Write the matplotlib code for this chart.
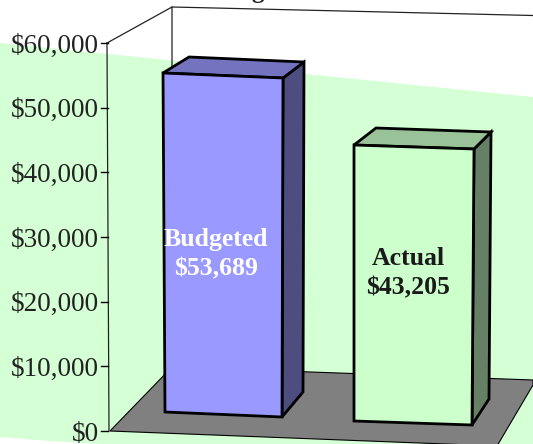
import matplotlib
matplotlib.use("Agg")
import matplotlib.pyplot as plt
from matplotlib.patches import Polygon

categories = ["Budgeted", "Actual"]
values = [53689, 43205]
bar_labels = ["$53,689", "$43,205"]
tick_values = [0, 10000, 20000, 30000, 40000, 50000, 60000]
tick_labels = ["$0", "$10,000", "$20,000", "$30,000", "$40,000", "$50,000", "$60,000"]

front_colors = ["#9999ff", "#ccffcc"]
top_colors = ["#7373bf", "#99c299"]
side_colors = ["#4d4d80", "#668066"]
text_colors = ["white", "#1a1a1a"]

# pixel layout of each bar
bar_x = [(165, 282), (354, 472)]
bar_top_x = [(163, 283), (354, 474)]
bar_base_y = [(412, 417), (421, 425)]
px_per_dollar = [339 / 53689, 276 / 43205]
depth = [(21, -16), (17, -17)]
label_x = [216, 408]
label_y = [238, 257]

axis_y0 = 431
axis_scale = 388 / 60000

plt.rcParams["font.family"] = ["Liberation Serif", "DejaVu Serif"]

fig = plt.figure(figsize=(5.33, 4.44), dpi=100)
ax = fig.add_axes([0, 0, 1, 1])
ax.set_xlim(0, 533)
ax.set_ylim(444, 0)
ax.axis("off")

# green wall and floor
ax.add_patch(Polygon([(0, 43), (533, 97), (533, 444), (100, 444), (50, 441), (0, 437)],
                     fc="#d5ffd5", ec="none", zorder=1))
ax.add_patch(Polygon([(110, 431), (172, 367), (533, 380), (533, 385), (497, 446)],
                     fc="#808080", ec="black", lw=0.8, zorder=2))

# frame lines
ax.plot([107, 109], [axis_y0 - 60000 * axis_scale, axis_y0], color="#222222", lw=0.9, zorder=3)
ax.plot([107, 172, 172], [43, 7, 367], color="#222222", lw=0.9, zorder=1.5)
ax.plot([172, 533], [7, 15.5], color="#222222", lw=0.9, zorder=1.5)

for v, lab in zip(tick_values, tick_labels):
    y = axis_y0 - v * axis_scale
    ax.plot([101, 108], [y, y], color="black", lw=1, zorder=3)
    ax.text(99, y + 3, lab, ha="right", va="center", fontsize=19.5, color="#222222", zorder=5)

for i, cat in enumerate(categories):
    xl, xr = bar_x[i]
    txl, txr = bar_top_x[i]
    byl, byr = bar_base_y[i]
    h = values[i] * px_per_dollar[i]
    dx, dy = depth[i]
    tl = (txl, byl - h)
    tr = (txr, byr - h)
    style = dict(ec="black", lw=2.0, joinstyle="miter", zorder=4)
    ax.add_patch(Polygon([tr, (tr[0] + dx, tr[1] + dy), (xr + dx, byr + dy - 9), (xr, byr)],
                         fc=side_colors[i], **style))
    ax.add_patch(Polygon([tl, (tl[0] + dx + 5, tl[1] + dy), (tr[0] + dx, tr[1] + dy), tr],
                         fc=top_colors[i], **style))
    ax.add_patch(Polygon([tl, tr, (xr, byr), (xl, byl)], fc=front_colors[i], **style))
    ax.text(label_x[i], label_y[i] + 1, cat, ha="center", va="center", fontsize=18.5,
            fontweight="bold", color=text_colors[i], zorder=6)
    ax.text(label_x[i], label_y[i] + 31, bar_labels[i], ha="center", va="center", fontsize=18.5,
            fontweight="bold", color=text_colors[i], zorder=6)

# only the tail of the cut off title shows at the top edge
ax.text(258, -2, "g", ha="center", va="baseline", fontsize=18, fontweight="bold",
        color="#222222", clip_on=False)

fig.savefig("out.png", dpi=100)
